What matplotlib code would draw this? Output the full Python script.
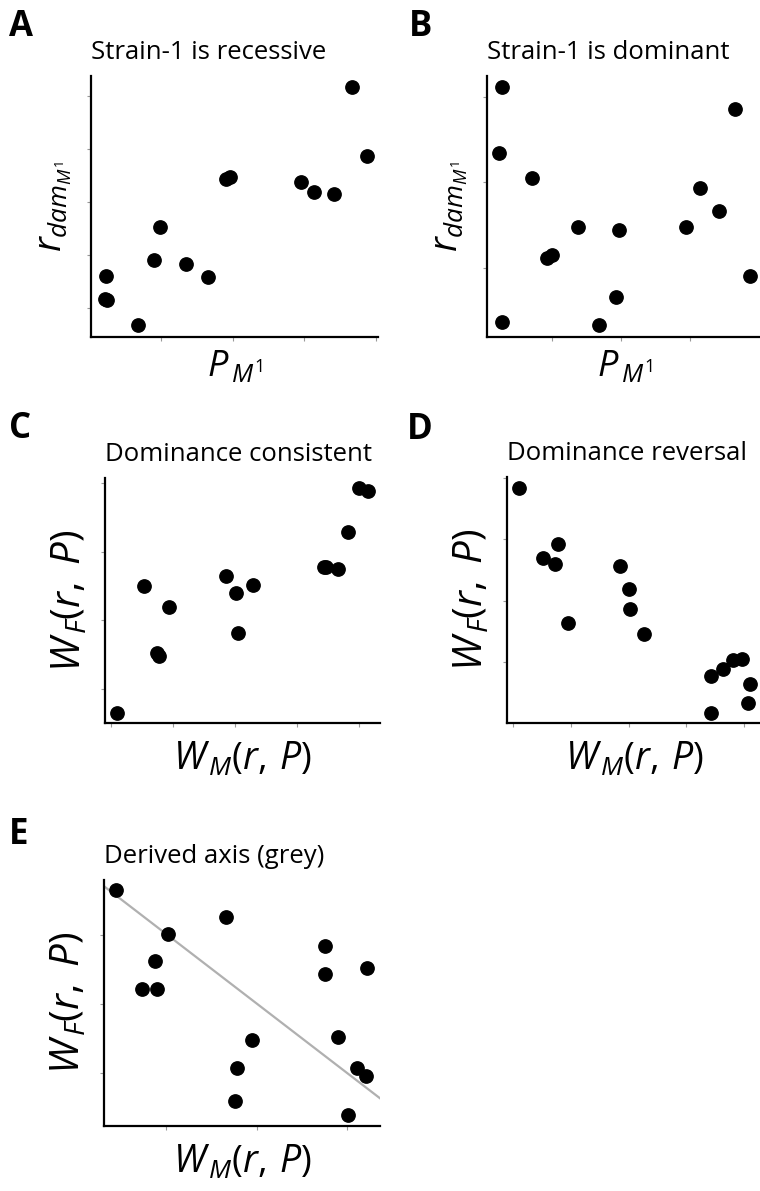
import matplotlib
matplotlib.use("Agg")
import matplotlib.pyplot as plt

plt.rcParams['font.family'] = ['Open Sans', 'DejaVu Sans']
plt.rcParams['mathtext.fontset'] = 'custom'
plt.rcParams['mathtext.rm'] = 'Open Sans'
plt.rcParams['mathtext.it'] = 'Open Sans:italic'
plt.rcParams['mathtext.bf'] = 'Open Sans:bold'

# panel A - strain-1 recessive
a_x = [3.66, 3.88, 1.91, 1.96, 2.95, 3.14, 3.42, 0.99, 0.90, 1.35, 1.66, 0.23, 0.21, 0.24, 0.68]
a_y = [5.18, 3.87, 3.43, 3.48, 3.38, 3.18, 3.15, 2.53, 1.90, 1.82, 1.58, 1.61, 1.17, 1.15, 0.68]

# panel B - strain-1 dominant
b_x = [0.27, 0.23, 0.71, 3.65, 3.14, 3.41, 2.94, 1.37, 1.96, 0.92, 1.00, 3.86, 1.92, 1.67, 0.27]
b_y = [3.11, 2.34, 2.05, 2.86, 1.93, 1.67, 1.48, 1.48, 1.45, 1.12, 1.16, 0.91, 0.67, 0.34, 0.38]

# panel C - dominance consistent
c_x = [0.11, 0.54, 0.94, 0.74, 0.78, 1.86, 2.01, 2.29, 2.05, 3.43, 3.46, 3.66, 3.82, 3.99, 4.13]
c_y = [0.66, 2.50, 2.20, 1.52, 1.49, 2.64, 2.40, 2.52, 1.82, 2.78, 2.77, 2.75, 3.29, 3.93, 3.88]

# panel D - dominance reversal
d_x = [0.09, 0.52, 0.77, 0.73, 0.94, 1.85, 2.00, 2.03, 2.27, 3.43, 3.64, 3.80, 3.97, 4.11, 4.07, 3.43]
d_y = [3.83, 2.69, 2.92, 2.60, 1.64, 2.57, 2.19, 1.86, 1.46, 0.77, 0.89, 1.03, 1.05, 0.65, 0.33, 0.17]

# panel E - derived axis
e_x = [0.44, 1.66, 1.02, 0.87, 0.73, 0.90, 2.75, 2.75, 3.22, 1.95, 2.90, 1.78, 1.76, 3.11, 3.20, 3.01]
e_y = [3.65, 3.26, 3.01, 2.62, 2.21, 2.21, 2.84, 2.44, 2.52, 1.48, 1.53, 1.07, 0.60, 1.07, 0.96, 0.40]
derived_x = [0.31, 3.36]
derived_y = [3.70, 0.64]

W, H = 760, 1191
fig = plt.figure(figsize=(W / 100, H / 100), dpi=100)


def place(l, t, r, b):
    return fig.add_axes([l / W, 1 - b / H, (r - l) / W, (b - t) / H])


r_lab = r'$r_{dam_{M^1}}$'
p_lab = r'$P_{\,M^1}$'
wf_lab = r'$W_{\,F}\left(r,\;P\right)$'
wm_lab = r'$W_{\,M}\left(r,\,P\right)$'

panels = [
    # letter, letter pos, title, box, xs, ys, xlim, ylim, xticks, yticks, xlabel, ylabel
    ('A', (9, 36), 'Strain-1 is recessive', (91, 76, 378, 337), a_x, a_y,
     (0.02, 4.03), (0.45, 5.38), [1, 2, 3, 4], [1, 2, 3, 4, 5], p_lab, r_lab),
    ('B', (409, 36), 'Strain-1 is dominant', (487, 76, 762, 337), b_x, b_y,
     (0.05, 4.04), (0.2, 3.24), [1, 2, 3], [1, 2, 3], p_lab, r_lab),
    ('C', (9, 438), 'Dominance consistent', (105, 478, 380, 723), c_x, c_y,
     (-0.09, 4.33), (0.51, 4.07), [0, 1, 2, 3, 4], [1, 2, 3, 4], wm_lab, wf_lab),
    ('D', (407, 439), 'Dominance reversal', (507, 477, 762, 723), d_x, d_y,
     (-0.11, 4.31), (0.01, 4.01), [0, 1, 2, 3, 4], [1, 2, 3, 4], wm_lab, wf_lab),
    ('E', (9, 844), 'Derived axis (grey)', (104, 880, 380, 1126), e_x, e_y,
     (0.31, 3.36), (0.24, 3.79), [1, 2, 3], [1, 2, 3], wm_lab, wf_lab),
]

for letter, lpos, title, box, xs, ys, xl, yl, xt, yt, xlab, ylab in panels:
    ax = place(*box)
    if letter == 'E':
        ax.plot(derived_x, derived_y, color='#b0b0b0', lw=1.6, zorder=1)
    ax.plot(xs, ys, 'o', color='black', ms=9.6, clip_on=False, zorder=3)
    ax.set_xlim(*xl)
    ax.set_ylim(*yl)
    ax.set_xticks(xt)
    ax.set_yticks(yt)
    ax.set_xticklabels([])
    ax.set_yticklabels([])
    ax.tick_params(length=3, width=0.8, color='#999999')
    for s in ['top', 'right']:
        ax.spines[s].set_visible(False)
    for s in ['left', 'bottom']:
        ax.spines[s].set_linewidth(1.6)
    ax.set_title(title, loc='left', fontsize=18.5, pad=12)
    if letter in 'AB':
        ax.set_xlabel(xlab, fontsize=26, labelpad=2)
        ax.set_ylabel(ylab, fontsize=27, labelpad=6)
    else:
        ax.set_xlabel(xlab, fontsize=27, labelpad=6)
        ax.set_ylabel(ylab, fontsize=29, labelpad=4)
    fig.text(lpos[0] / W, 1 - lpos[1] / H, letter,
             fontsize=25, fontweight='bold', va='baseline', ha='left')

fig.savefig('out.png', dpi=100)
